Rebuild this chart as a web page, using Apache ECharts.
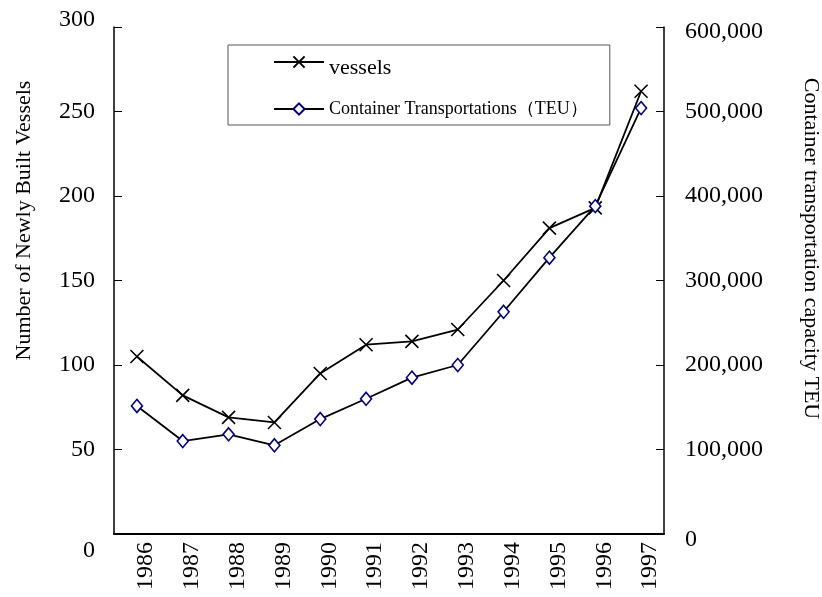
<!DOCTYPE html>
<html>
<head>
<meta charset="utf-8">
<script src="https://cdn.jsdelivr.net/npm/echarts@6/dist/echarts.min.js"></script>
<style>
  html, body { margin: 0; padding: 0; background: #fff; }
  #chart { width: 822px; height: 597px; }
</style>
</head>
<body>
<div id="chart"></div>
<script>
// data
const years = ['1986', '1987', '1988', '1989', '1990', '1991', '1992', '1993', '1994', '1995', '1996', '1997']
const vessels = [105, 82, 69, 66, 95, 112, 114, 121, 150, 181, 193, 262]
const teu = [151500, 110000, 118000, 105000, 136000, 160000, 185000, 200000, 263000, 327000, 388000, 504000]
const leftTicks = [0, 50, 100, 150, 200, 250, 300]
const rightTicks = [0, 100000, 200000, 300000, 400000, 500000, 600000]

const serif = "'Liberation Serif', 'Times New Roman', serif"
const xPath = 'path://M0,0L10,10M10,0L0,10'

const chart = echarts.init(document.getElementById('chart'))

chart.setOption({
  animation: false,
  textStyle: { fontFamily: serif, color: '#000' },
  grid: { left: 114, right: 158, top: 27, bottom: 63, outerBoundsMode: 'none', containLabel: false },
  legend: {
    orient: 'vertical',
    left: 228,
    top: 45,
    padding: [0, 22, 7, 45],
    itemGap: 21,
    itemWidth: 50,
    itemHeight: 14,
    backgroundColor: '#fff',
    borderColor: '#555',
    borderWidth: 1,
    formatter: function (name) {
      return name === 'vessels' ? '{v|' + name + '}' : '{c|' + name + '}'
    },
    textStyle: {
      fontFamily: serif,
      color: '#000',
      rich: {
        v: { fontSize: 22, lineHeight: 14, fontFamily: serif, color: '#000', padding: [12, 0, 0, 0] },
        c: { fontSize: 18, lineHeight: 18, fontFamily: serif, color: '#000' }
      }
    },
    data: ['vessels', 'Container Transportations（TEU）']
  },
  xAxis: {
    type: 'category',
    data: years,
    boundaryGap: true,
    axisLine: { lineStyle: { color: '#000', width: 2 } },
    axisTick: { inside: true, length: 6, lineStyle: { color: '#000' } },
    axisLabel: {
      rotate: 90, interval: 0, fontSize: 24, margin: 8, color: '#000', fontFamily: serif,
      formatter: function (v) { return '{y|' + v + '}' },
      rich: { y: { fontSize: 24, fontFamily: serif, color: '#000', padding: [18, 0, 0, 0] } }
    }
  },
  yAxis: [
    {
      type: 'value',
      min: leftTicks[0],
      max: leftTicks[leftTicks.length - 1],
      interval: 50,
      splitLine: { show: false },
      axisLine: { show: true, lineStyle: { color: '#000', width: 1.5 } },
      axisTick: { show: true, inside: true, length: 8, lineStyle: { color: '#000' } },
      axisLabel: {
        fontSize: 24, margin: 19, color: '#000', fontFamily: serif,
        formatter: function (v) {
          if (v === leftTicks[0]) return '{lo|' + v + '}'
          if (v === leftTicks[leftTicks.length - 1]) return '{hi|' + v + '}'
          return String(v)
        },
        rich: {
          lo: { fontSize: 24, fontFamily: serif, color: '#000', padding: [34, 0, 0, 0] },
          hi: { fontSize: 24, fontFamily: serif, color: '#000', padding: [0, 0, 14, 0] }
        }
      },
      name: 'Number of Newly Built Vessels',
      nameLocation: 'middle',
      nameRotate: 90,
      nameGap: 79,
      nameMoveOverlap: false,
      nameTextStyle: { fontSize: 22, fontFamily: serif, color: '#000', padding: [0, 0, 0, 120] }
    },
    {
      type: 'value',
      position: 'right',
      min: rightTicks[0],
      max: rightTicks[rightTicks.length - 1],
      interval: 100000,
      splitLine: { show: false },
      axisLine: { show: true, lineStyle: { color: '#000', width: 1.5 } },
      axisTick: { show: true, inside: true, length: 8, lineStyle: { color: '#000' } },
      axisLabel: {
        fontSize: 24, margin: 21, color: '#000', fontFamily: serif,
        formatter: function (v) {
          const s = v.toLocaleString('en-US')
          if (v === rightTicks[0]) return '{lo|' + s + '}'
          if (v === rightTicks[rightTicks.length - 1]) return '{hi|' + s + '}'
          return s
        },
        rich: {
          lo: { fontSize: 24, fontFamily: serif, color: '#000', padding: [12, 0, 0, 0] },
          hi: { fontSize: 24, fontFamily: serif, color: '#000', padding: [10, 0, 0, 0] }
        }
      },
      name: 'Container transportation capacity TEU',
      nameLocation: 'middle',
      nameRotate: -90,
      nameGap: 136,
      nameMoveOverlap: false,
      nameTextStyle: { fontSize: 22, fontFamily: serif, color: '#000', padding: [0, 64, 0, 0] }
    }
  ],
  series: [
    {
      name: 'vessels',
      type: 'line',
      yAxisIndex: 0,
      data: vessels,
      symbol: xPath,
      symbolSize: 13,
      lineStyle: { color: '#000', width: 1.8 },
      itemStyle: { color: '#000', borderColor: '#000', borderWidth: 1.6 }
    },
    {
      name: 'Container Transportations（TEU）',
      type: 'line',
      yAxisIndex: 1,
      data: teu,
      symbol: 'diamond',
      symbolSize: [11, 13],
      lineStyle: { color: '#000', width: 1.8 },
      itemStyle: { color: '#fff', borderColor: '#000080', borderWidth: 1.6 }
    }
  ]
})
</script>
</body>
</html>
